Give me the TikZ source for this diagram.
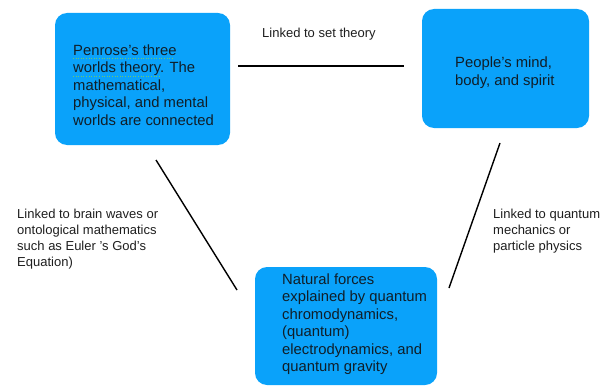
\documentclass[tikz,border=0pt]{standalone}
\usepackage{fontspec}
\setmainfont{Liberation Sans}
\definecolor{boxblue}{RGB}{10,162,250}
\definecolor{boxtext}{RGB}{16,30,40}
\definecolor{labeltext}{RGB}{30,30,30}
\definecolor{spellgreen}{RGB}{110,200,110}
\begin{document}
\begin{tikzpicture}[x=1pt,y=-1pt,
  bluebox/.style={draw=none,fill=boxblue,rounded corners=12pt,inner sep=0pt},
  boxtxt/.style={anchor=base west,inner sep=0pt,align=left,text=boxtext,
    font=\fontsize{14.8}{17.5}\selectfont},
  linktxt/.style={anchor=base west,inner sep=0pt,align=left,text=labeltext,
    font=\fontsize{13}{16}\selectfont},
  link/.style={draw=black,line width=1.4pt}]
\useasboundingbox (0,0) rectangle (612,385);
% boxes
\node[bluebox,minimum width=175pt,minimum height=132pt] (b1) at (142.5,79) {};
\node[bluebox,minimum width=167pt,minimum height=119pt] (b2) at (505.5,68.5) {};
\node[bluebox,minimum width=182pt,minimum height=118pt] (b3) at (346,326) {};
% box texts (anchored at the baseline of the last line)
\node[boxtxt] (t1) at (73,125) {Penrose’s three\\worlds theory. The\\mathematical,\\physical, and mental\\worlds are connected};
\node[boxtxt] (t2) at (455,85) {People’s mind,\\body, and spirit};
\node[boxtxt] (t3) at (282,371.5) {Natural forces\\explained by quantum\\chromodynamics,\\(quantum)\\electrodynamics, and\\quantum gravity};
% spell-check underlines
\coordinate (u1a) at (73,58.5); \coordinate (u1b) at (173,58.5);
\coordinate (u2a) at (73,76); \coordinate (u2b) at (160,76);
\draw[spellgreen,dotted,line width=0.6pt] (u1a) -- (u1b);
\draw[spellgreen,dotted,line width=0.6pt] (u2a) -- (u2b);
% connectors
\coordinate (c1a) at (238,66); \coordinate (c1b) at (404,66);
\coordinate (c2a) at (156,160); \coordinate (c2b) at (237,290);
\coordinate (c3a) at (500,143); \coordinate (c3b) at (449,288);
\draw[link] (c1a) -- (c1b);
\draw[link] (c2a) -- (c2b);
\draw[link] (c3a) -- (c3b);
% labels (anchored at the baseline of the last line)
\node[linktxt] (l1) at (262,38) {Linked to set theory};
\node[linktxt] (l2) at (17,266) {Linked to brain waves or\\ontological mathematics\\such as Euler ’s God’s\\Equation)};
\node[linktxt] (l3) at (493,250) {Linked to quantum\\mechanics or\\particle physics};
\end{tikzpicture}
\end{document}
